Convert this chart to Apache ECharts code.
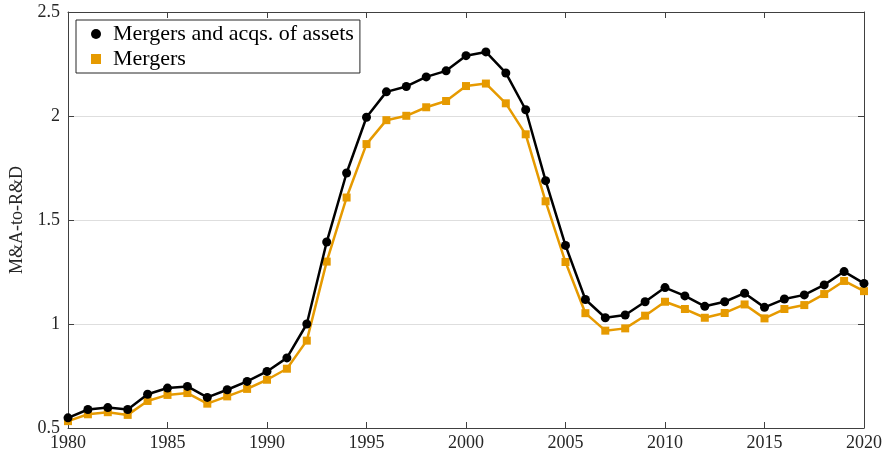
<!DOCTYPE html>
<html>
<head>
<meta charset="utf-8">
<script src="https://cdn.jsdelivr.net/npm/echarts@6/dist/echarts.min.js"></script>
<style>
  html, body { margin: 0; padding: 0; background: #fff; }
  #chart { width: 888px; height: 462px; }
</style>
</head>
<body>
<div id="chart"></div>
<script>
  var years = []
  for (var y = 1980; y <= 2020; y++) years.push(y)

  var mergersAssets = [0.549, 0.589, 0.598, 0.589, 0.662, 0.692, 0.700, 0.647, 0.684, 0.724,
    0.772, 0.837, 1.000, 1.394, 1.726, 1.994, 2.116, 2.142, 2.188, 2.217,
    2.290, 2.308, 2.207, 2.030, 1.689, 1.378, 1.118, 1.030, 1.043, 1.107,
    1.175, 1.135, 1.085, 1.107, 1.148, 1.080, 1.120, 1.140, 1.188, 1.252, 1.195]
  var mergers = [0.533, 0.566, 0.576, 0.563, 0.630, 0.659, 0.668, 0.617, 0.652, 0.688,
    0.732, 0.785, 0.920, 1.300, 1.608, 1.865, 1.980, 2.001, 2.042, 2.072,
    2.144, 2.156, 2.061, 1.912, 1.590, 1.298, 1.052, 0.968, 0.979, 1.040,
    1.107, 1.072, 1.030, 1.053, 1.094, 1.027, 1.072, 1.091, 1.144, 1.207, 1.158]
  var seriesNames = ['Mergers and acqs. of assets', 'Mergers']

  function pairs (vals) {
    return vals.map(function (v, i) { return [years[i], v] })
  }

  var font = 'Liberation Serif'
  var axisColor = '#404040'
  var square = 'path://M0,0L10,0L10,10L0,10Z'

  var chart = echarts.init(document.getElementById('chart'))
  chart.setOption({
    animation: false,
    grid: { left: 68, right: 24, top: 12, bottom: 34, outerBoundsMode: 'none' },
    legend: {
      left: 76,
      top: 20,
      orient: 'vertical',
      backgroundColor: '#fff',
      borderColor: '#262626',
      borderWidth: 1,
      borderRadius: 0,
      padding: [3, 6, 3, 15],
      itemGap: 3,
      itemWidth: 24,
      itemHeight: 10,
      symbolKeepAspect: true,
      textStyle: { fontFamily: font, fontSize: 22, color: '#000', lineHeight: 22 },
      data: [
        { name: seriesNames[0], icon: 'circle' },
        { name: seriesNames[1], icon: square }
      ]
    },
    xAxis: [{
      type: 'value',
      min: 1980,
      max: 2020,
      interval: 5,
      axisLine: { lineStyle: { color: axisColor, width: 1 } },
      axisTick: { inside: true, length: 6, lineStyle: { color: axisColor } },
      axisLabel: { fontFamily: font, fontSize: 18, color: '#262626', margin: 6, formatter: function (v) { return String(v) } },
      splitLine: { show: false }
    }, {
      type: 'value',
      position: 'top',
      min: 1980,
      max: 2020,
      interval: 5,
      axisLine: { lineStyle: { color: axisColor, width: 1 } },
      axisTick: { inside: true, length: 6, lineStyle: { color: axisColor } },
      axisLabel: { show: false },
      splitLine: { show: false }
    }],
    yAxis: [{
      type: 'value',
      min: 0.5,
      max: 2.5,
      interval: 0.5,
      name: 'M&A-to-R&D',
      nameLocation: 'middle',
      nameGap: 40,
      nameTextStyle: { fontFamily: font, fontSize: 18, color: '#262626' },
      axisLine: { show: true, lineStyle: { color: axisColor, width: 1 } },
      axisTick: { show: true, inside: true, length: 6, lineStyle: { color: axisColor } },
      axisLabel: { fontFamily: font, fontSize: 18, color: '#262626', margin: 8 },
      splitLine: { show: true, lineStyle: { color: '#dedede', width: 1 } }
    }, {
      type: 'value',
      position: 'right',
      min: 0.5,
      max: 2.5,
      interval: 0.5,
      axisLine: { show: true, lineStyle: { color: axisColor, width: 1 } },
      axisTick: { show: true, inside: true, length: 6, lineStyle: { color: axisColor } },
      axisLabel: { show: false },
      splitLine: { show: false }
    }],
    series: [{
      name: seriesNames[1],
      type: 'line',
      data: pairs(mergers),
      symbol: 'rect',
      symbolSize: 8,
      color: '#E69A00',
      lineStyle: { width: 2.5, color: '#E69A00' },
      itemStyle: { color: '#E69A00' },
      z: 2
    }, {
      name: seriesNames[0],
      type: 'line',
      data: pairs(mergersAssets),
      symbol: 'circle',
      symbolSize: 9,
      color: '#000',
      lineStyle: { width: 2.5, color: '#000' },
      itemStyle: { color: '#000' },
      z: 3
    }]
  })
</script>
</body>
</html>
